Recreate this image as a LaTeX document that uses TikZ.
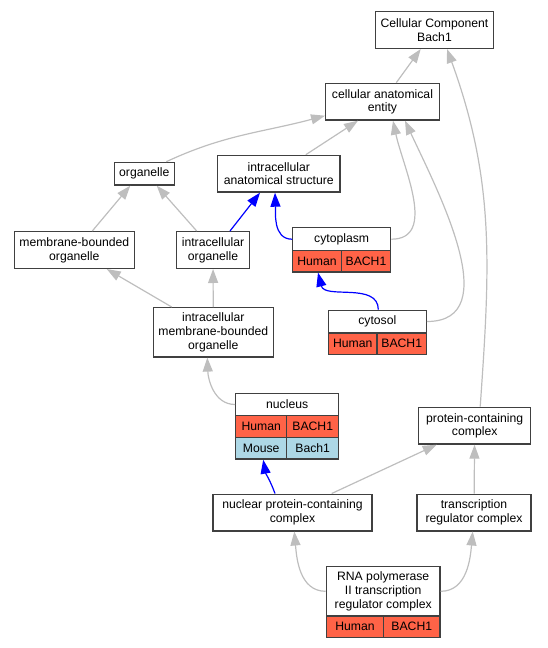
\documentclass[tikz,border=0pt]{standalone}
\usepackage{fontspec}
\setmainfont{Liberation Sans}
\usepackage{tikz}
\usetikzlibrary{arrows.meta}
\definecolor{edgegray}{RGB}{190,190,190}
\definecolor{boxline}{RGB}{64,64,64}
\definecolor{tomato}{RGB}{255,99,71}
\definecolor{lightblue}{RGB}{173,216,230}

\begin{document}
\begin{tikzpicture}[x=1pt,y=1pt]
	\def \orgrow{-173.7}
	\def \orgtworow{-250}
	\def \complexrow{-512.5}
	\tikzstyle{go-node}=[rectangle,draw=boxline,fill=white,line width=1.3pt,inner xsep=5pt,inner ysep=1pt,align=center,font=\fontsize{12.2}{13.7}\selectfont]
	\tikzstyle{one-line}=[minimum height=22.7pt]
	\tikzstyle{two-line}=[minimum height=36.7pt]
	\tikzstyle{three-line}=[minimum height=49.3pt]
	\tikzstyle{human-cell}=[go-node,fill=tomato,inner sep=0pt,minimum height=21.5pt]
	\tikzstyle{mouse-cell}=[go-node,fill=lightblue,inner sep=0pt,minimum height=21.7pt]
	\tikzstyle{isa-edge}=[every edge/.style={draw,color=edgegray,line width=1.2pt,-{Triangle[length=14pt,width=10pt]}}]
	\tikzstyle{loc-edge}=[every edge/.style={draw,color=blue,line width=1.2pt,-{Triangle[length=14pt,width=10pt]}}]
	\useasboundingbox (0,0) rectangle (547,-648);

	% upper terms
	\node[go-node,two-line,minimum width=117pt] 	(cc)	at (434.5,-30)		{Cellular Component\\Bach1};
	\node[go-node,two-line,minimum width=113.6pt] 	(cae)	at (382.5,-101.7)	{cellular anatomical\\entity};
	\node[go-node,one-line,minimum width=60pt] 	(organelle)	at (144.3,\orgrow)	{organelle};
	\node[go-node,two-line,minimum width=122.3pt] 	(ias)	at (278.8,\orgrow)	{intracellular\\anatomical structure};
	\node[go-node,two-line,minimum width=118.7pt] 	(mbo)	at (74.3,\orgtworow)	{membrane-bounded\\organelle};
	\node[go-node,two-line,minimum width=73.4pt] 	(io)	at (213,\orgtworow)	{intracellular\\organelle};
	\node[go-node,three-line,minimum width=118.7pt] 	(imbo)	at (213.3,-332.3)	{intracellular\\membrane-bounded\\organelle};

	% annotated terms
	\node[go-node,minimum width=98pt,minimum height=23pt] 	(cyto)	at (341.7,-239.2)	{cytoplasm};
	\node[human-cell,minimum width=48.6pt] 	(cyto-h)	at (317,-261.2)		{Human};
	\node[human-cell,minimum width=49.4pt] 	(cyto-b)	at (366,-261.2)		{BACH1};

	\node[go-node,minimum width=98pt,minimum height=22.4pt] 	(cytosol)	at (377.3,-321.5)	{cytosol};
	\node[human-cell,minimum width=48.7pt] 	(cytosol-h)	at (352.7,-343.7)	{Human};
	\node[human-cell,minimum width=49.3pt] 	(cytosol-b)	at (401.7,-343.7)	{BACH1};

	\node[go-node,minimum width=103pt,minimum height=22.4pt] 	(nucleus)	at (287.2,-404.5)	{nucleus};
	\node[human-cell,minimum width=51pt] 	(nucleus-h)	at (261.2,-426.5)	{Human};
	\node[human-cell,minimum width=52pt] 	(nucleus-b)	at (312.7,-426.5)	{BACH1};
	\node[mouse-cell,minimum width=51pt] 	(nucleus-m)	at (261.2,-448.2)	{Mouse};
	\node[mouse-cell,minimum width=52pt] 	(nucleus-mb)	at (312.7,-448.2)	{Bach1};

	% complexes
	\node[go-node,two-line,minimum width=112pt] 	(pcc)	at (474.7,-425.7)	{protein-containing\\complex};
	\node[go-node,two-line,minimum width=159pt] 	(npcc)	at (292.5,\complexrow)	{nuclear protein-containing\\complex};
	\node[go-node,two-line,minimum width=114pt] 	(trc)	at (474,\complexrow)	{transcription\\regulator complex};
	\node[go-node,three-line,minimum width=113.7pt] 	(rna)	at (383.2,-591.3)	{RNA polymerase\\II transcription\\regulator complex};
	\node[human-cell,minimum width=57.4pt] 	(rna-h)	at (355,-626.7)		{Human};
	\node[human-cell,minimum width=56.3pt] 	(rna-b)	at (411.8,-626.7)	{BACH1};

	\path[isa-edge]
		(cae)	edge	(cc)
		([xshift=5.5pt]pcc.north)	edge[out=86,in=-70]	([xshift=12.5pt]cc.south)
		([xshift=22pt]organelle.north)	edge[out=25,in=195]	([yshift=5pt]cae.south west)
		([xshift=27pt]ias.north)	edge	([xshift=-24.5pt]cae.south)
		(cyto.east)	edge[out=0,in=-78]	([xshift=10.5pt]cae.south)
		(cytosol.east)	edge[out=0,in=-65]	([xshift=22.5pt]cae.south)
		([xshift=18pt]mbo.north)	edge	([xshift=-14pt]organelle.south)
		([xshift=-16.3pt]io.north)	edge	([xshift=12.4pt]organelle.south)
		([xshift=-41.6pt]imbo.north)	edge	([xshift=32.4pt]mbo.south)
		(imbo)	edge	(io)
		(nucleus.west)	edge[out=180,in=-88]	([xshift=-6pt]imbo.south)
		([xshift=39.2pt]npcc.north)	edge	([xshift=-38pt]pcc.south)
		(trc)	edge	(pcc)
		(rna.west)	edge[out=180,in=-85]	([xshift=1.8pt]npcc.south)
		(rna.east)	edge[out=0,in=-95]	([xshift=-1.3pt]trc.south);

	\path[loc-edge]
		([xshift=17pt]io.north)	edge	([xshift=-18.8pt]ias.south)
		(cyto.west)	edge[out=180,in=-88]	([xshift=-3.8pt]ias.south)
		([xshift=1pt]cytosol.north)	edge[out=90,in=-76]	([xshift=1pt]cyto-h.south)
		([xshift=-17.5pt]npcc.north)	edge[out=110,in=-80]	([xshift=2pt]nucleus-m.south);
\end{tikzpicture}
\end{document}
